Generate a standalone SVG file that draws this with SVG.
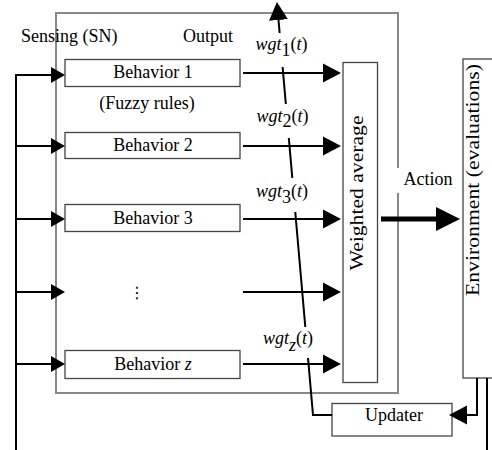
<svg xmlns="http://www.w3.org/2000/svg" width="492" height="450" viewBox="0 0 492 450" font-family="'Liberation Serif', 'Times New Roman', serif">
  <style>
    text { font-family: "Liberation Serif", "Times New Roman", serif; font-size: 18px; fill: #000; }
    .mid { text-anchor: middle; }
    .it { font-style: italic; }
    .box { fill: #fff; stroke: #444; stroke-width: 1.3; }
    .frame { fill: none; stroke: #888; stroke-width: 2; }
    .wire { fill: none; stroke: #000; stroke-width: 2; }
    .thick { fill: none; stroke: #000; stroke-width: 5; }
    .knock { fill: #fff; stroke: none; }
  </style>
  <defs>
    <marker id="arr-s" markerUnits="userSpaceOnUse" markerWidth="14" markerHeight="16" refX="0" refY="8" orient="auto">
      <path d="M0,0 L14,8 L0,16 Z" fill="#000"/>
    </marker>
    <marker id="arr-m" markerUnits="userSpaceOnUse" markerWidth="18" markerHeight="20" refX="0" refY="10" orient="auto">
      <path d="M0,0.5 L18,10 L0,19.5 Z" fill="#000"/>
    </marker>
    <marker id="arr-l" markerUnits="userSpaceOnUse" markerWidth="24" markerHeight="24" refX="0" refY="12" orient="auto">
      <path d="M0,0 L24,12 L0,24 Z" fill="#000"/>
    </marker>
  </defs>

  <!-- behaviour-layer enclosure -->
  <rect class="frame" x="56" y="13" width="342" height="380"/>

  <!-- free labels -->
  <text x="21" y="42">Sensing (SN)</text>
  <text x="183" y="42">Output</text>
  <text class="mid" x="147" y="109">(Fuzzy rules)</text>

  <!-- behaviour nodes -->
  <g id="behavior-1">
    <rect class="box" x="65" y="59.5" width="175" height="27"/>
    <text class="mid" x="153" y="78">Behavior 1</text>
  </g>
  <g id="behavior-2">
    <rect class="box" x="65" y="132.5" width="175" height="26"/>
    <text class="mid" x="153" y="151">Behavior 2</text>
  </g>
  <g id="behavior-3">
    <rect class="box" x="65" y="204.5" width="175" height="27"/>
    <text class="mid" x="153" y="224">Behavior 3</text>
  </g>
  <g id="behavior-dots">
    <text class="mid" x="137" y="298" style="font-family: 'DejaVu Sans', sans-serif; font-size: 16px;">⋮</text>
  </g>
  <g id="behavior-z">
    <rect class="box" x="65" y="350.5" width="175" height="28"/>
    <text class="mid" x="153" y="370">Behavior <tspan class="it">z</tspan></text>
  </g>

  <!-- weighted average -->
  <g id="weighted-average">
    <rect class="box" x="343" y="62.5" width="34.5" height="320" stroke="#222"/>
    <text class="mid" transform="translate(363,193) rotate(-90)" textLength="155" lengthAdjust="spacingAndGlyphs">Weighted average</text>
  </g>

  <!-- environment -->
  <g id="environment">
    <rect class="box" x="463" y="59" width="40" height="319" stroke="#222"/>
    <text class="mid" transform="translate(479,180) rotate(-90)" textLength="232" lengthAdjust="spacingAndGlyphs">Environment (evaluations)</text>
  </g>

  <!-- updater -->
  <g id="updater">
    <rect class="box" x="332" y="403.5" width="120" height="32.5" stroke="#222"/>
    <text class="mid" x="394" y="421">Updater</text>
  </g>

  <!-- connectors -->
  <g id="connectors">
    <!-- sensing bus -->
    <path class="wire" d="M16,450 V75 H51" marker-end="url(#arr-s)"/>
    <path class="wire" d="M16,146 H51" marker-end="url(#arr-s)"/>
    <path class="wire" d="M16,219 H51" marker-end="url(#arr-s)"/>
    <path class="wire" d="M16,292 H51" marker-end="url(#arr-s)"/>
    <path class="wire" d="M16,364 H51" marker-end="url(#arr-s)"/>

    <!-- behaviour outputs -->
    <path class="wire" d="M243,73 H323" marker-end="url(#arr-m)"/>
    <path class="wire" d="M243,146 H323" marker-end="url(#arr-m)"/>
    <path class="wire" d="M243,219 H323" marker-end="url(#arr-m)"/>
    <path class="wire" d="M243,292 H323" marker-end="url(#arr-m)"/>
    <path class="wire" d="M243,364 H323" marker-end="url(#arr-m)"/>

    <!-- action -->
    <path class="thick" d="M381,219 H436" marker-end="url(#arr-l)"/>
    <rect class="knock" x="396" y="168" width="60" height="25"/>
    <text class="mid" x="428" y="185">Action</text>

    <!-- evaluation feedback -->
    <path class="wire" d="M477,378 V415 H467" marker-end="url(#arr-m)"/>
    <path class="wire" d="M487,378 V450"/>

    <!-- weight update line -->
    <path class="wire" d="M332,415 H313 L278.5,20" marker-end="url(#arr-m)"/>

    <rect class="knock" x="256" y="33" width="52" height="34"/>
    <text class="mid" x="281.5" y="50"><tspan class="it">wgt</tspan><tspan dy="6">1</tspan><tspan dy="-6">(</tspan><tspan class="it">t</tspan>)</text>

    <rect class="knock" x="257" y="104" width="51" height="34"/>
    <text class="mid" x="282.5" y="122"><tspan class="it">wgt</tspan><tspan dy="5">2</tspan><tspan dy="-5">(</tspan><tspan class="it">t</tspan>)</text>

    <rect class="knock" x="256" y="178" width="52" height="34"/>
    <text class="mid" x="282" y="197"><tspan class="it">wgt</tspan><tspan dy="6">3</tspan><tspan dy="-6">(</tspan><tspan class="it">t</tspan>)</text>

    <rect class="knock" x="262" y="327" width="52" height="31"/>
    <text class="mid" x="288" y="344"><tspan class="it">wgt</tspan><tspan class="it" dy="7">z</tspan><tspan dy="-7">(</tspan><tspan class="it">t</tspan>)</text>
  </g>
</svg>
